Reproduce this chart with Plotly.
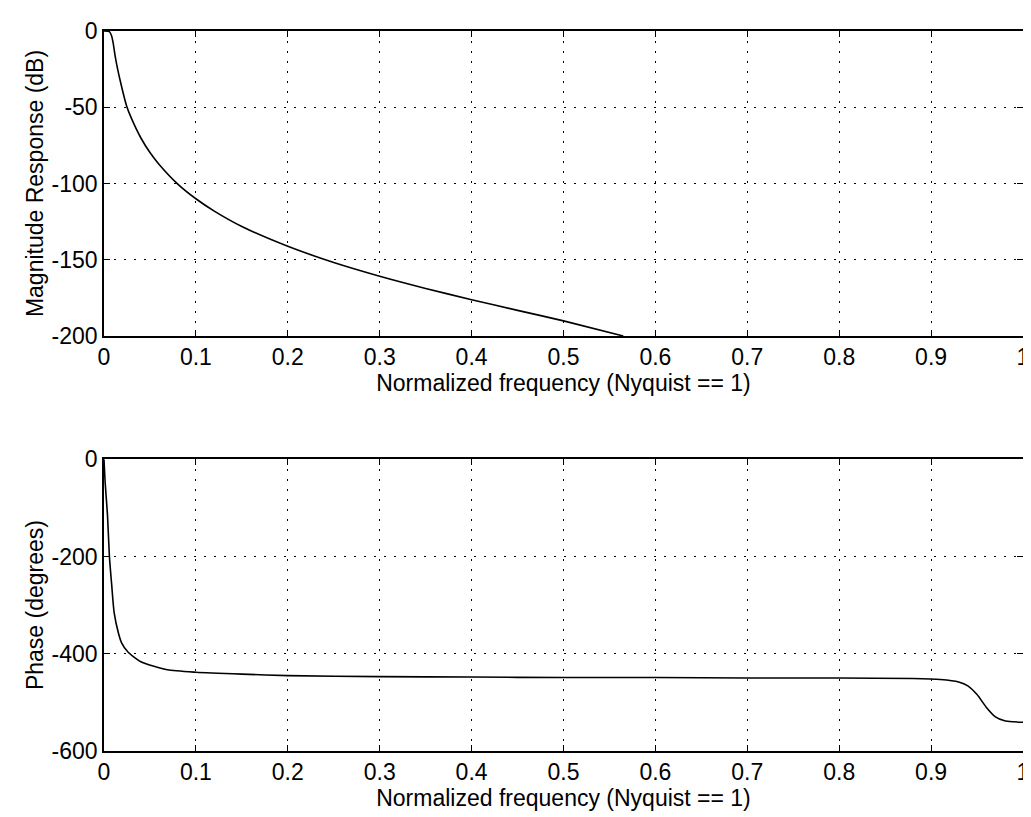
import plotly.graph_objects as go

# Magnitude response
mag_freq = [0.0, 0.004, 0.006, 0.0084, 0.010, 0.012, 0.0145, 0.0174, 0.0245, 0.030,
            0.040, 0.050, 0.060, 0.080, 0.100, 0.120, 0.150, 0.200, 0.250, 0.300,
            0.350, 0.400, 0.450, 0.500, 0.565]
mag_db = [0.0, -0.1, -0.5, -3.4, -8, -16, -24, -32, -49, -57.5,
          -70.0, -79.7, -87.5, -100.2, -110.0, -118.1, -128.2, -141.2, -151.8, -160.8,
          -168.8, -176.2, -183.2, -190.1, -200]

# Phase response
ph_freq = [0.0, 0.0013, 0.0038, 0.0059, 0.0084, 0.011, 0.0156, 0.019, 0.0263, 0.0406,
           0.069, 0.1, 0.15, 0.2, 0.3, 0.4, 0.5, 0.6, 0.7, 0.8,
           0.88, 0.91, 0.93, 0.94, 0.95, 0.96, 0.97, 0.98, 0.99, 1.0]
ph_deg = [0, -49, -115, -200, -259, -315, -357, -377, -397, -417,
          -433, -438, -442, -445, -447, -448, -449, -449, -450, -450,
          -451, -453, -458, -466, -484, -510, -530, -538, -540, -541]

x_ticks = [0, 0.1, 0.2, 0.3, 0.4, 0.5, 0.6, 0.7, 0.8, 0.9, 1]
x_ticklabels = ["0", "0.1", "0.2", "0.3", "0.4", "0.5", "0.6", "0.7", "0.8", "0.9", "1"]
mag_ticks = [0, -50, -100, -150, -200]
mag_ticklabels = ["0", "-50", "-100", "-150", "-200"]
ph_ticks = [0, -200, -400, -600]
ph_ticklabels = ["0", "-200", "-400", "-600"]

FONT = "Liberation Sans, Arial, Helvetica, sans-serif"
FS = 23
GRID_DASH = "2px,8px"

fig = go.Figure()
fig.add_trace(go.Scatter(x=mag_freq, y=mag_db, mode="lines",
                         line=dict(color="black", width=1.6, shape="spline", smoothing=0.6),
                         xaxis="x", yaxis="y", showlegend=False))
fig.add_trace(go.Scatter(x=ph_freq, y=ph_deg, mode="lines",
                         line=dict(color="black", width=1.6, shape="spline", smoothing=0.6),
                         xaxis="x2", yaxis="y2", showlegend=False))

common_x = dict(range=[0, 1], tickvals=x_ticks, ticktext=x_ticklabels,
                showgrid=True, gridcolor="black", griddash=GRID_DASH, gridwidth=1,
                showline=True, linecolor="black", linewidth=1.5, mirror="ticks",
                ticks="inside", ticklen=6, tickcolor="black", zeroline=False,
                tickfont=dict(family=FONT, size=FS, color="black"),
                title=dict(text="Normalized frequency (Nyquist == 1)",
                           font=dict(family=FONT, size=FS, color="black"), standoff=0))
common_y = dict(showgrid=True, gridcolor="black", griddash=GRID_DASH, gridwidth=1,
                showline=True, linecolor="black", linewidth=1.5, mirror="ticks",
                ticks="inside", ticklen=6, tickcolor="black", zeroline=False,
                tickfont=dict(family=FONT, size=FS, color="black"))

fig.update_layout(
    width=1031, height=817,
    paper_bgcolor="white", plot_bgcolor="white",
    margin=dict(l=96, r=10, t=18, b=74),
    xaxis=dict(domain=[0, 1], anchor="y", **common_x),
    yaxis=dict(domain=[0.5764, 1], anchor="x", range=[-200, 0],
               tickvals=mag_ticks, ticktext=mag_ticklabels,
               title=dict(text="Magnitude Response (dB)",
                          font=dict(family=FONT, size=FS, color="black"), standoff=2),
               **common_y),
    xaxis2=dict(domain=[0, 1], anchor="y2", **common_x),
    yaxis2=dict(domain=[0, 0.4053], anchor="x2", range=[-600, 0],
                tickvals=ph_ticks, ticktext=ph_ticklabels,
                title=dict(text="Phase (degrees)",
                           font=dict(family=FONT, size=FS, color="black"), standoff=2),
                **common_y),
)

fig.write_html("out.html")
